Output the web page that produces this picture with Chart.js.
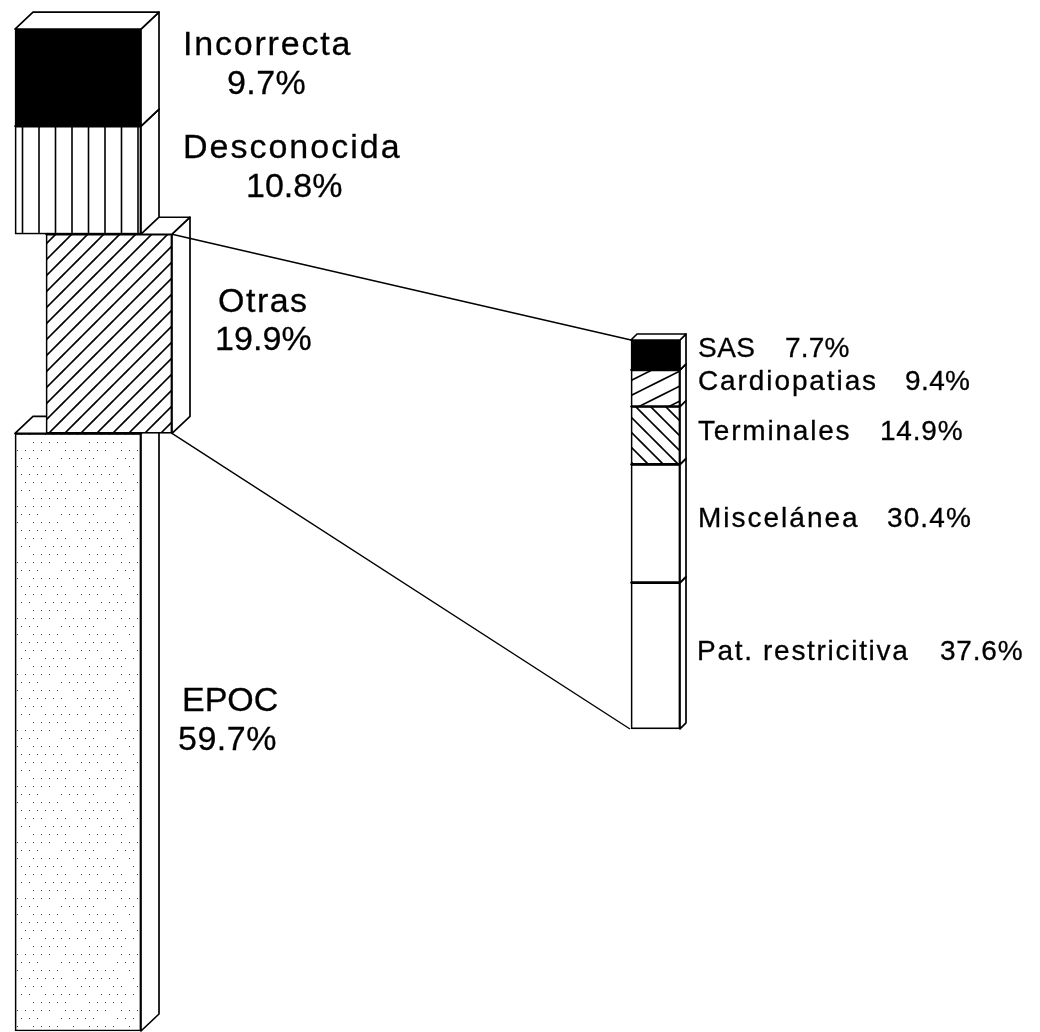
<!DOCTYPE html>
<html lang="es">
<head>
<meta charset="UTF-8">
<title>Diagnósticos</title>
<script src="https://cdn.jsdelivr.net/npm/chart.js"></script>
<style>
    html, body { margin: 0; padding: 0; background: #fff; }
    #wrap { position: relative; width: 1040px; height: 1032px; }
</style>
</head>
<body>
<div id="wrap"><canvas id="chart"></canvas></div>
<script>
// main column, top to bottom
const mainLabels = ['Incorrecta', 'Desconocida', 'Otras', 'EPOC'];
const mainValues = [9.7, 10.8, 19.9, 59.7];

// breakdown of "Otras", top to bottom
const otrasLabels = ['SAS', 'Cardiopatias', 'Terminales', 'Miscelánea', 'Pat. restricitiva'];
const otrasValues = [7.7, 9.4, 14.9, 30.4, 37.6];

// text layout: name x/y/spacing, then value x/y/spacing
const mainText = [
    [183, 55, 1.8, 227, 94, 0.4],
    [183, 158, 2, 246, 197, 0],
    [218, 312, 1.5, 215, 350, 0.1],
    [182, 711, 0, 178, 750, 0.5]
];
const otrasText = [
    [698, 357, 0.5, 785, 357, 0.2],
    [698, 390, 1.9, 905, 390, 0.4],
    [698, 440, 1.8, 880, 440, 0.8],
    [698, 527, 2, 887, 527, 1.1],
    [697, 660, 1.7, 940, 660, 0.8]
];

function tile(w, h, draw) {
    const c = document.createElement('canvas');
    c.width = w;
    c.height = h;
    const g = c.getContext('2d');
    g.fillStyle = '#fff';
    g.fillRect(0, 0, w, h);
    g.strokeStyle = '#000';
    g.fillStyle = '#000';
    g.lineWidth = 1.6;
    draw(g);
    return g.createPattern(c, 'repeat');
}
function lines(g, segs) {
    g.beginPath();
    segs.forEach(s => { g.moveTo(s[0], s[1]); g.lineTo(s[2], s[3]); });
    g.stroke();
}

const vertical = tile(33, 8, g => lines(g, [[6, 0, 6, 8], [22.5, 0, 22.5, 8]]));
const diagonal = tile(16, 16, g => lines(g, [[-2, 4, 4, -2], [-2, 20, 20, -2], [14, 20, 20, 14]]));
const shallow = tile(30, 15, g => lines(g, [[-4, 8, 16, -2], [-4, 23, 36, 3], [26, 23, 36, 18]]));
const reverse = tile(15, 15, g => lines(g, [[-2, 9, 8, 19], [3, -1, 17, 13]]));
// staggered dot screen, a few dots dropped out like the scanned print
const dots = tile(56, 56, g => {
    g.fillStyle = '#444';
    for (let row = 0; row < 7; row++) {
        for (let col = 0; col < 7; col++) {
            if ((row * 3 + col * 5) % 7 === 0 || (row * 5 + col) % 11 === 0) continue;
            g.fillRect(col * 8 + (row % 2 ? 5 : 1), row * 8 + 2, 1, 1);
        }
    }
});

const mainFill = ['#000', vertical, diagonal, dots];
const otrasFill = ['#000', shallow, reverse, '#fff', '#fff'];

// floating bars, cumulated from the bottom of each column
function spans(values) {
    const out = [];
    let top = values.reduce((a, b) => a + b, 0);
    values.forEach(v => { out.push([top - v, top]); top -= v; });
    return out;
}
const mainSpans = spans(mainValues);
const otrasSpans = spans(otrasValues);

const datasets = [];
mainLabels.forEach((name, i) => datasets.push({
    label: name,
    data: [{ x: i === 2 ? 109 : 78, y: mainSpans[i] }],
    yAxisID: 'y',
    backgroundColor: mainFill[i],
    barThickness: 126,
    depth: [18, 17]
}));
otrasLabels.forEach((name, i) => datasets.push({
    label: name,
    data: [{ x: 655.5, y: otrasSpans[i] }],
    yAxisID: 'y2',
    backgroundColor: otrasFill[i],
    barThickness: 49,
    depth: [6, 6]
}));

const box3d = {
    id: 'box3d',
    afterDatasetDraw(chart, args) {
        const ds = chart.data.datasets[args.index];
        const bar = args.meta.data[0];
        const ctx = chart.ctx;
        const l = bar.x - bar.width / 2, r = bar.x + bar.width / 2;
        const t = Math.min(bar.y, bar.base), b = Math.max(bar.y, bar.base);
        const dx = ds.depth[0], dy = ds.depth[1];
        ctx.save();
        ctx.strokeStyle = '#000';
        ctx.fillStyle = '#fff';
        ctx.lineWidth = 1.7;
        ctx.lineJoin = 'round';
        ctx.beginPath();
        ctx.moveTo(r, t);
        ctx.lineTo(r + dx, t - dy);
        ctx.lineTo(r + dx, b - dy);
        ctx.lineTo(r, b);
        ctx.closePath();
        ctx.fill();
        ctx.stroke();
        ctx.beginPath();
        ctx.moveTo(l, t);
        ctx.lineTo(l + dx, t - dy);
        ctx.lineTo(r + dx, t - dy);
        ctx.lineTo(r, t);
        ctx.closePath();
        ctx.fill();
        ctx.stroke();
        ctx.restore();
    },
    afterDatasetsDraw(chart) {
        const ctx = chart.ctx;
        const otras = chart.getDatasetMeta(2).data[0];
        const first = chart.getDatasetMeta(4).data[0];
        const last = chart.getDatasetMeta(8).data[0];
        const ox = otras.x + otras.width / 2;
        const rx = first.x - first.width / 2;
        ctx.save();
        ctx.strokeStyle = '#000';
        ctx.lineWidth = 1.4;
        ctx.beginPath();
        ctx.moveTo(ox, otras.y);
        ctx.lineTo(rx, first.y);
        ctx.moveTo(ox, otras.base);
        ctx.lineTo(rx - 1, last.base);
        ctx.stroke();

        ctx.fillStyle = '#000';
        ctx.lineWidth = 0.3;
        ctx.textBaseline = 'alphabetic';
        ctx.textAlign = 'left';
        function put(name, value, p) {
            const pct = value.toFixed(1) + '%';
            ctx.letterSpacing = p[2] + 'px';
            ctx.fillText(name, p[0], p[1]);
            ctx.strokeText(name, p[0], p[1]);
            ctx.letterSpacing = p[5] + 'px';
            ctx.fillText(pct, p[3], p[4]);
            ctx.strokeText(pct, p[3], p[4]);
        }
        ctx.font = '34px "Liberation Sans"';
        mainLabels.forEach((name, i) => put(name, mainValues[i], mainText[i]));
        ctx.font = '28px "Liberation Sans"';
        otrasLabels.forEach((name, i) => put(name, otrasValues[i], otrasText[i]));
        ctx.restore();
    }
};

new Chart(document.getElementById('chart'), {
    type: 'bar',
    data: { datasets: datasets },
    plugins: [box3d],
    options: {
        responsive: true,
        maintainAspectRatio: false,
        animation: false,
        layout: { padding: 0 },
        plugins: { legend: { display: false }, title: { display: false }, tooltip: { enabled: false } },
        datasets: { bar: { grouped: false, borderColor: '#000', borderWidth: 1.7, borderSkipped: false } },
        scales: {
            x: { type: 'linear', min: 0, max: 1040, offset: false, display: false },
            y: { type: 'linear', min: -0.1, max: 103, display: false },
            y2: { type: 'linear', min: -77.9, max: 187.4, display: false }
        }
    }
});
</script>
</body>
</html>
